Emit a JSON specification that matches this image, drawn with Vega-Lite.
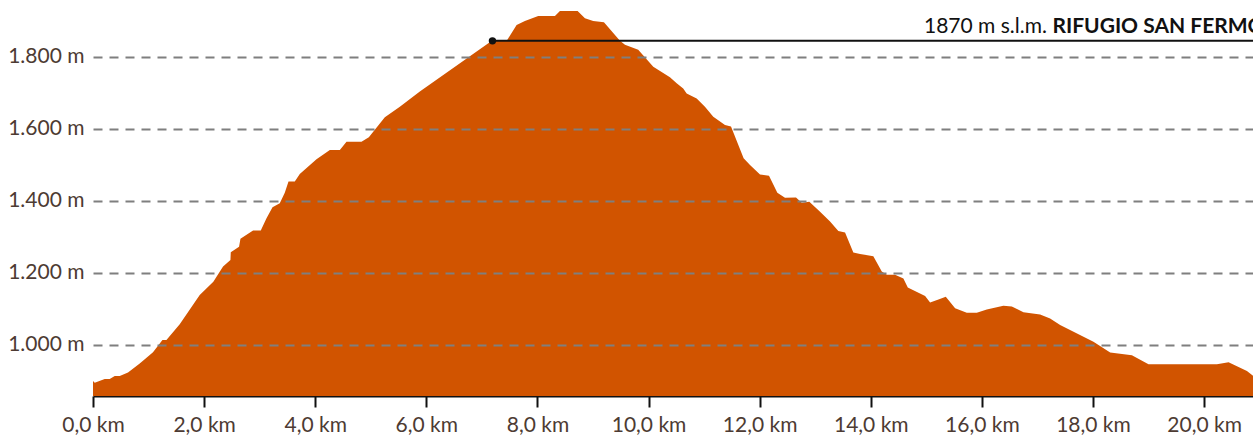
{
  "$schema": "https://vega.github.io/schema/vega-lite/v6.json",
  "width": 1160,
  "height": 396,
  "autosize": "none",
  "padding": {"left": 93, "top": 0, "right": 0, "bottom": 41},
  "background": "white",
  "config": {"view": {"stroke": null}, "font": "Lato"},
  "datasets": {
    "profile": [
      {"km": 0, "m": 899}, {"km": 0.031, "m": 894}, {"km": 0.211, "m": 905}, {"km": 0.301, "m": 905},
      {"km": 0.391, "m": 913}, {"km": 0.481, "m": 913}, {"km": 0.63, "m": 923}, {"km": 0.841, "m": 948},
      {"km": 1.08, "m": 979}, {"km": 1.25, "m": 1013}, {"km": 1.322, "m": 1013}, {"km": 1.561, "m": 1057},
      {"km": 1.921, "m": 1138}, {"km": 2.166, "m": 1175}, {"km": 2.341, "m": 1217}, {"km": 2.474, "m": 1235},
      {"km": 2.48, "m": 1257}, {"km": 2.629, "m": 1272}, {"km": 2.654, "m": 1294}, {"km": 2.881, "m": 1317},
      {"km": 3.02, "m": 1317}, {"km": 3.123, "m": 1351}, {"km": 3.231, "m": 1382}, {"km": 3.362, "m": 1393},
      {"km": 3.452, "m": 1422}, {"km": 3.519, "m": 1453}, {"km": 3.632, "m": 1453}, {"km": 3.722, "m": 1474},
      {"km": 4.023, "m": 1515}, {"km": 4.263, "m": 1541}, {"km": 4.443, "m": 1541}, {"km": 4.563, "m": 1564},
      {"km": 4.833, "m": 1564}, {"km": 4.965, "m": 1576}, {"km": 5.253, "m": 1632}, {"km": 5.523, "m": 1661},
      {"km": 5.883, "m": 1703}, {"km": 7.18, "m": 1844}, {"km": 7.45, "m": 1845}, {"km": 7.625, "m": 1888},
      {"km": 7.774, "m": 1899}, {"km": 8.014, "m": 1913}, {"km": 8.315, "m": 1913}, {"km": 8.405, "m": 1927},
      {"km": 8.723, "m": 1927}, {"km": 8.855, "m": 1907}, {"km": 9.004, "m": 1899}, {"km": 9.197, "m": 1896},
      {"km": 9.485, "m": 1844}, {"km": 9.575, "m": 1833}, {"km": 9.814, "m": 1819}, {"km": 10.085, "m": 1772},
      {"km": 10.385, "m": 1743}, {"km": 10.506, "m": 1726}, {"km": 10.624, "m": 1712}, {"km": 10.686, "m": 1698},
      {"km": 10.866, "m": 1684}, {"km": 11.015, "m": 1661}, {"km": 11.165, "m": 1633}, {"km": 11.376, "m": 1610},
      {"km": 11.484, "m": 1606}, {"km": 11.711, "m": 1518}, {"km": 11.826, "m": 1499}, {"km": 12.006, "m": 1473},
      {"km": 12.168, "m": 1469}, {"km": 12.318, "m": 1422}, {"km": 12.456, "m": 1408}, {"km": 12.654, "m": 1409},
      {"km": 12.757, "m": 1394}, {"km": 12.894, "m": 1397}, {"km": 13.087, "m": 1369}, {"km": 13.267, "m": 1342},
      {"km": 13.416, "m": 1316}, {"km": 13.537, "m": 1312}, {"km": 13.686, "m": 1256}, {"km": 13.807, "m": 1252},
      {"km": 14.046, "m": 1246}, {"km": 14.198, "m": 1203}, {"km": 14.288, "m": 1194}, {"km": 14.437, "m": 1194},
      {"km": 14.587, "m": 1184}, {"km": 14.666, "m": 1159}, {"km": 14.978, "m": 1135}, {"km": 15.068, "m": 1117},
      {"km": 15.23, "m": 1126}, {"km": 15.35, "m": 1133}, {"km": 15.518, "m": 1101}, {"km": 15.728, "m": 1089},
      {"km": 15.908, "m": 1089}, {"km": 16.088, "m": 1098}, {"km": 16.387, "m": 1108}, {"km": 16.539, "m": 1106},
      {"km": 16.748, "m": 1090}, {"km": 17.048, "m": 1084}, {"km": 17.228, "m": 1073}, {"km": 17.408, "m": 1055},
      {"km": 18.008, "m": 1008}, {"km": 18.309, "m": 978}, {"km": 18.7, "m": 971}, {"km": 18.999, "m": 946},
      {"km": 20.231, "m": 946}, {"km": 20.44, "m": 951}, {"km": 20.771, "m": 927}, {"km": 20.884, "m": 913}
    ],
    "marker": [{"km": 7.19, "m": 1844, "end": 20.88}],
    "labels": [
      {"km": 17.17, "m": 1865, "label": "1870 m s.l.m.", "part": "quota"},
      {"km": 17.27, "m": 1865, "label": "RIFUGIO SAN FERMO", "part": "nome"}
    ]
  },
  "layer": [
    {
      "data": {"name": "profile"},
      "mark": {"type": "area", "color": "#d15400", "clip": true, "interpolate": "linear"},
      "encoding": {
        "x": {
          "field": "km", "type": "quantitative",
          "scale": {"domain": [0, 20.88], "nice": false, "zero": false},
          "axis": {
            "title": null,
            "values": [0, 2, 4, 6, 8, 10, 12, 14, 16, 18, 20],
            "labelExpr": "replace(format(datum.value, '.1f'), '.', ',') + ' km'",
            "labelFlush": false, "labelOverlap": false,
            "domainColor": "#111111", "domainWidth": 2,
            "tickColor": "#111111", "tickWidth": 2, "tickSize": 11,
            "labelFont": "Lato", "labelFontSize": 21, "labelColor": "#4d3b33",
            "labelPadding": 7, "grid": false
          }
        },
        "y": {
          "field": "m", "type": "quantitative",
          "scale": {"domain": [857.5, 1957.5], "nice": false, "zero": false},
          "axis": {
            "title": null,
            "values": [1000, 1200, 1400, 1600, 1800],
            "labelExpr": "replace(format(datum.value, ','), ',', '.') + ' m'",
            "domain": false, "ticks": false, "labelPadding": 9,
            "labelFont": "Lato", "labelFontSize": 21, "labelColor": "#4d3b33",
            "grid": true, "gridColor": "#7f7f7f", "gridWidth": 2, "gridDash": [9, 7],
            "zindex": 1
          }
        }
      }
    },
    {
      "data": {"name": "marker"},
      "mark": {"type": "rule", "color": "#111111", "strokeWidth": 2, "clip": true},
      "encoding": {
        "x": {"field": "km", "type": "quantitative"},
        "x2": {"field": "end"},
        "y": {"field": "m", "type": "quantitative"}
      }
    },
    {
      "data": {"name": "marker"},
      "mark": {"type": "point", "filled": true, "color": "#111111", "size": 55, "opacity": 1},
      "encoding": {
        "x": {"field": "km", "type": "quantitative"},
        "y": {"field": "m", "type": "quantitative"}
      }
    },
    {
      "data": {"name": "labels"},
      "transform": [{"filter": "datum.part === 'quota'"}],
      "mark": {"type": "text", "align": "right", "baseline": "alphabetic", "font": "Lato", "fontSize": 21, "fontWeight": "normal", "color": "#111111", "clip": true},
      "encoding": {
        "x": {"field": "km", "type": "quantitative"},
        "y": {"field": "m", "type": "quantitative"},
        "text": {"field": "label"}
      }
    },
    {
      "data": {"name": "labels"},
      "transform": [{"filter": "datum.part === 'nome'"}],
      "mark": {"type": "text", "align": "left", "baseline": "alphabetic", "font": "Lato", "fontSize": 21, "fontWeight": "bold", "color": "#111111", "clip": true},
      "encoding": {
        "x": {"field": "km", "type": "quantitative"},
        "y": {"field": "m", "type": "quantitative"},
        "text": {"field": "label"}
      }
    }
  ]
}
